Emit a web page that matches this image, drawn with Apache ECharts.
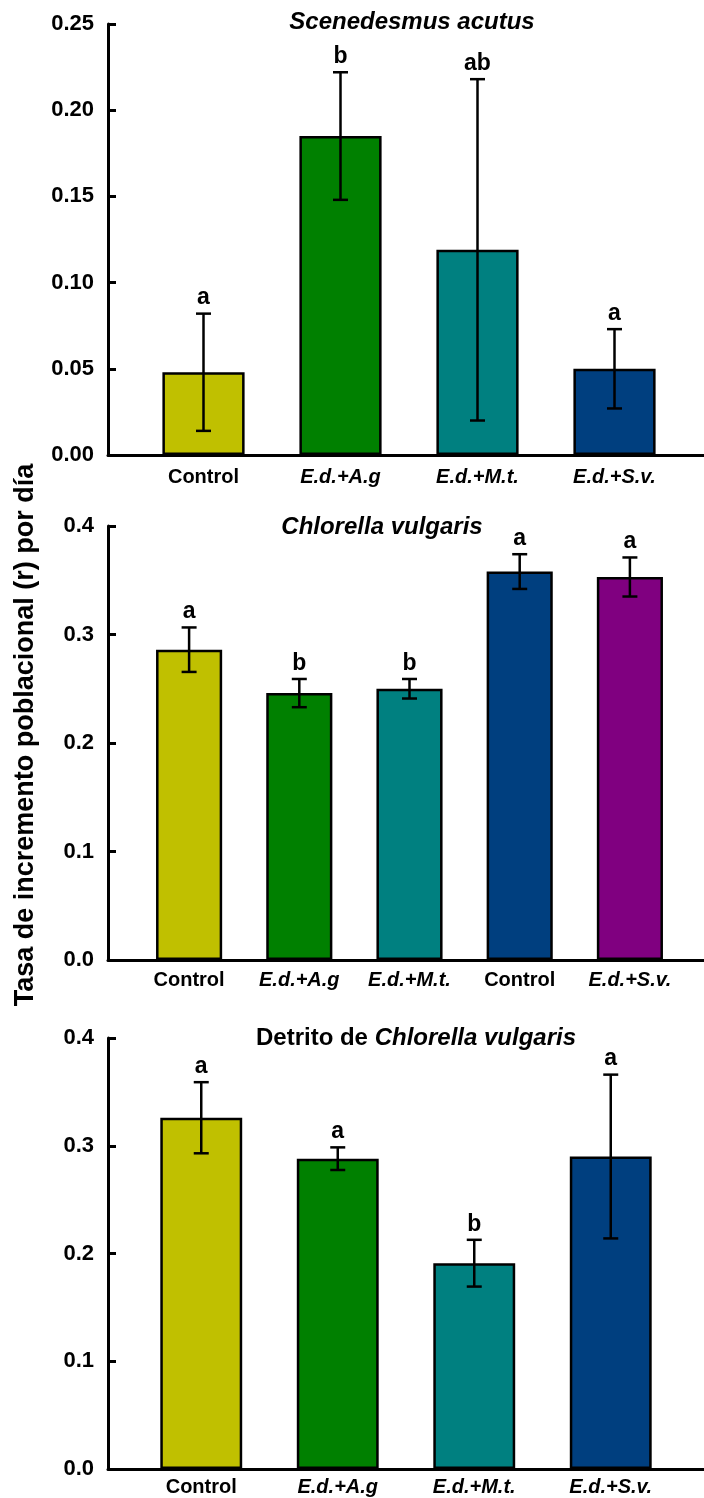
<!DOCTYPE html>
<html>
<head>
<meta charset="utf-8">
<script src="https://cdn.jsdelivr.net/npm/echarts@6/dist/echarts.min.js"></script>
<style>
  html, body { margin: 0; padding: 0; background: #fff; }
  #main { width: 704px; height: 1498px; }
</style>
</head>
<body>
<div id="main"></div>
<script>
// datos
var catsA = ['Control', 'E.d.+A.g', 'E.d.+M.t.', 'E.d.+S.v.'];
var meanA = [0.048, 0.185, 0.119, 0.050];
var errA  = [0.034, 0.037, 0.099, 0.023];
var letA  = ['a', 'b', 'ab', 'a'];

var catsB = ['Control', 'E.d.+A.g', 'E.d.+M.t.', 'Control', 'E.d.+S.v.'];
var meanB = [0.286, 0.246, 0.250, 0.358, 0.353];
var errB  = [0.0205, 0.013, 0.009, 0.016, 0.018];
var letB  = ['a', 'b', 'b', 'a', 'a'];

var catsC = ['Control', 'E.d.+A.g', 'E.d.+M.t.', 'E.d.+S.v.'];
var meanC = [0.326, 0.288, 0.191, 0.290];
var errC  = [0.033, 0.0105, 0.0217, 0.076];
var letC  = ['a', 'a', 'b', 'a'];

var ticksA = { min: 0, max: 0.25, interval: 0.05 };
var ticksBC = { min: 0, max: 0.4, interval: 0.1 };

var colA = ['#C0C000', '#008000', '#008080', '#003F7F'];
var colB = ['#C0C000', '#008000', '#008080', '#003F7F', '#800080'];

var FONT = '"Liberation Sans", Arial, sans-serif';

var myChart = echarts.init(document.getElementById('main'));

// paneles: marco (ejes) + barras
var panels = [
    { top: 24,   bottom: 1043, barsLeft: 135, barsRight: 21, cats: catsA, mean: meanA, err: errA, let: letA, col: colA, ticks: ticksA, dec: 2, lblMargin: 12 },
    { top: 526,  bottom: 538,  barsLeft: 134, barsRight: 19, cats: catsB, mean: meanB, err: errB, let: letB, col: colB, ticks: ticksBC, dec: 1, lblMargin: 10 },
    { top: 1038, bottom: 29,   barsLeft: 133, barsRight: 25, cats: catsC, mean: meanC, err: errC, let: letC, col: colA, ticks: ticksBC, dec: 1, lblMargin: 8 }
];

function errorBars(letters) {
    return function (params, api) {
        var i = api.value(0), m = api.value(1), e = api.value(2);
        var top = api.coord([i, m + e]);
        var bot = api.coord([i, m - e]);
        var hw = 7.5;
        var st = { stroke: '#000', lineWidth: 2.5 };
        return {
            type: 'group',
            children: [
                { type: 'line', shape: { x1: top[0], y1: top[1], x2: bot[0], y2: bot[1] }, style: st },
                { type: 'line', shape: { x1: top[0] - hw, y1: top[1], x2: top[0] + hw, y2: top[1] }, style: st },
                { type: 'line', shape: { x1: bot[0] - hw, y1: bot[1], x2: bot[0] + hw, y2: bot[1] }, style: st },
                {
                    type: 'text',
                    x: top[0], y: top[1] - 4,
                    style: {
                        text: letters[params.dataIndex],
                        fill: '#000',
                        font: 'bold 23px ' + FONT,
                        textAlign: 'center',
                        textVerticalAlign: 'bottom'
                    }
                }
            ]
        };
    };
}

var grid = [], xAxis = [], yAxis = [], series = [];

panels.forEach(function (p, k) {
    var gf = k * 2, gb = k * 2 + 1;
    grid.push({ left: 108, right: 0, top: p.top, bottom: p.bottom });
    grid.push({ left: p.barsLeft, right: p.barsRight, top: p.top, bottom: p.bottom });

    // eje x del marco: solo la linea
    xAxis.push({
        gridIndex: gf, type: 'value', min: 0, max: 1,
        axisLine: { show: true, onZero: false, lineStyle: { color: '#000', width: 3 } },
        axisTick: { show: false }, axisLabel: { show: false }, splitLine: { show: false }
    });
    yAxis.push({
        gridIndex: gf, type: 'value',
        min: p.ticks.min, max: p.ticks.max, interval: p.ticks.interval,
        axisLine: { show: true, lineStyle: { color: '#000', width: 3 } },
        axisTick: { show: true, inside: true, length: 8, lineStyle: { color: '#000', width: 3 } },
        axisLabel: {
            margin: 14, color: '#000', fontFamily: FONT, fontWeight: 'bold', fontSize: 22,
            formatter: function (v) { return v.toFixed(p.dec); }
        },
        splitLine: { show: false }
    });

    // eje de categorias de las barras
    xAxis.push({
        gridIndex: gb, type: 'category', data: p.cats,
        axisLine: { show: false }, axisTick: { show: false }, splitLine: { show: false },
        axisLabel: {
            interval: 0, margin: p.lblMargin,
            formatter: function (v) { return v === 'Control' ? '{n|' + v + '}' : '{i|' + v + '}'; },
            rich: {
                n: { fontFamily: FONT, fontWeight: 'bold', fontSize: 20, color: '#000' },
                i: { fontFamily: FONT, fontWeight: 'bold', fontStyle: 'italic', fontSize: 20, color: '#000' }
            }
        }
    });
    yAxis.push({
        gridIndex: gb, type: 'value', show: false,
        min: p.ticks.min, max: p.ticks.max, interval: p.ticks.interval
    });

    series.push({
        type: 'bar', xAxisIndex: gb, yAxisIndex: gb,
        barWidth: '60%', animation: false,
        data: p.mean.map(function (v, i) {
            return { value: v, itemStyle: { color: p.col[i] } };
        }),
        itemStyle: { borderColor: '#000', borderWidth: 2.5 },
        z: 2
    });
    series.push({
        type: 'custom', xAxisIndex: gb, yAxisIndex: gb,
        animation: false, z: 3,
        renderItem: errorBars(p.let),
        data: p.mean.map(function (v, i) { return [i, v, p.err[i]]; })
    });
});

var option = {
    animation: false,
    grid: grid,
    xAxis: xAxis,
    yAxis: yAxis,
    series: series,
    graphic: [
        {
            type: 'text', x: 26, y: 735, rotation: Math.PI / 2,
            style: {
                text: 'Tasa de incremento poblacional (r) por día',
                font: 'bold 27px ' + FONT, fill: '#000',
                textAlign: 'center', textVerticalAlign: 'middle'
            }
        },
        {
            type: 'text', x: 412, y: 22,
            style: {
                text: 'Scenedesmus acutus',
                font: 'italic bold 24px ' + FONT, fill: '#000',
                textAlign: 'center', textVerticalAlign: 'middle'
            }
        },
        {
            type: 'text', x: 382, y: 527,
            style: {
                text: 'Chlorella vulgaris',
                font: 'italic bold 24px ' + FONT, fill: '#000',
                textAlign: 'center', textVerticalAlign: 'middle'
            }
        },
        {
            type: 'text', x: 416, y: 1038,
            style: {
                text: '{n|Detrito de }{i|Chlorella vulgaris}',
                textAlign: 'center', textVerticalAlign: 'middle',
                rich: {
                    n: { fontFamily: FONT, fontWeight: 'bold', fontSize: 24, fill: '#000' },
                    i: { fontFamily: FONT, fontWeight: 'bold', fontStyle: 'italic', fontSize: 24, fill: '#000' }
                }
            }
        }
    ]
};

myChart.setOption(option);
</script>
</body>
</html>
